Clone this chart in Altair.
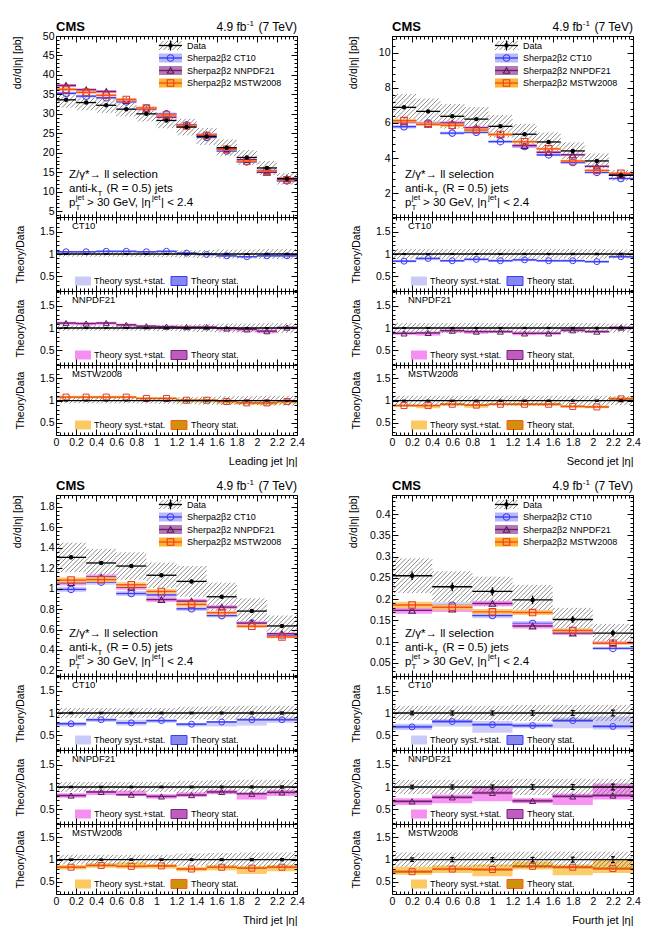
import altair as alt
import numpy as np
import pandas as pd

FONT = "Liberation Sans"

# ---------------- measured values ----------------
# bin edges in |eta|
lead_edges = [0.0, 0.2, 0.4, 0.6, 0.8, 1.0, 1.2, 1.4, 1.6, 1.8, 2.0, 2.2, 2.4]
second_edges = [0.0, 0.24, 0.48, 0.72, 0.96, 1.2, 1.44, 1.68, 1.92, 2.16, 2.4]
third_edges = [0.0, 0.3, 0.6, 0.9, 1.2, 1.5, 1.8, 2.1, 2.4]
fourth_edges = [0.0, 0.4, 0.8, 1.2, 1.6, 2.0, 2.4]

# measured dsigma/d|eta| [pb], relative stat. and syst. uncertainties
lead_xsec = [33.6, 32.9, 32.2, 31.2, 30.0, 28.3, 26.6, 24.2, 21.3, 18.8, 16.1, 13.3]
lead_stat = [0.005, 0.005, 0.005, 0.005, 0.005, 0.006, 0.006, 0.006, 0.007, 0.007, 0.008, 0.009]
lead_syst = [0.06, 0.06, 0.06, 0.06, 0.065, 0.07, 0.08, 0.09, 0.10, 0.10, 0.11, 0.11]

second_xsec = [6.89, 6.66, 6.38, 6.22, 5.81, 5.36, 4.92, 4.41, 3.84, 3.02]
second_stat = [0.01, 0.01, 0.01, 0.01, 0.011, 0.012, 0.012, 0.013, 0.014, 0.016]
second_syst = [0.11, 0.11, 0.11, 0.11, 0.11, 0.11, 0.11, 0.11, 0.11, 0.10]

third_xsec = [1.305, 1.25, 1.22, 1.13, 1.07, 0.92, 0.78, 0.635]
third_stat = [0.015, 0.015, 0.016, 0.017, 0.018, 0.02, 0.022, 0.025]
third_syst = [0.11, 0.11, 0.11, 0.11, 0.14, 0.15, 0.16, 0.16]

fourth_xsec = [0.255, 0.229, 0.218, 0.198, 0.152, 0.120]
fourth_stat = [0.04, 0.045, 0.045, 0.05, 0.055, 0.065]
fourth_syst = [0.16, 0.16, 0.16, 0.18, 0.18, 0.18]

# Sherpa theory / data ratios, with syst.+stat. band limits
lead_ct10 = [1.05, 1.05, 1.06, 1.06, 1.05, 1.06, 1.02, 0.99, 0.96, 0.94, 0.96, 0.96]
lead_ct10_lo = [1.02, 1.02, 1.03, 1.03, 1.02, 1.03, 0.99, 0.96, 0.93, 0.91, 0.93, 0.93]
lead_ct10_hi = [1.07, 1.07, 1.08, 1.08, 1.07, 1.08, 1.04, 1.01, 0.98, 0.96, 0.98, 0.98]
lead_nnpdf = [1.11, 1.10, 1.11, 1.07, 1.04, 1.03, 1.02, 1.02, 0.99, 0.97, 0.93, 1.01]
lead_nnpdf_lo = [1.07, 1.06, 1.07, 1.03, 1.00, 0.99, 0.98, 0.98, 0.94, 0.92, 0.88, 0.97]
lead_nnpdf_hi = [1.14, 1.13, 1.14, 1.10, 1.07, 1.06, 1.05, 1.05, 1.02, 1.00, 0.97, 1.04]
lead_mstw = [1.08, 1.08, 1.08, 1.08, 1.05, 1.05, 1.01, 1.01, 0.98, 0.95, 0.95, 0.98]
lead_mstw_lo = [1.05, 1.05, 1.05, 1.05, 1.02, 1.02, 0.96, 0.96, 0.93, 0.91, 0.90, 0.93]
lead_mstw_hi = [1.11, 1.11, 1.11, 1.11, 1.08, 1.08, 1.04, 1.04, 1.01, 0.98, 0.98, 1.01]

second_ct10 = [0.84, 0.90, 0.85, 0.88, 0.85, 0.87, 0.85, 0.85, 0.83, 0.94]
second_ct10_lo = [0.81, 0.86, 0.82, 0.85, 0.82, 0.84, 0.82, 0.82, 0.80, 0.91]
second_ct10_hi = [0.87, 0.93, 0.88, 0.91, 0.88, 0.90, 0.88, 0.88, 0.86, 0.97]
second_nnpdf = [0.88, 0.89, 0.94, 0.92, 0.92, 0.88, 0.88, 0.95, 0.92, 1.01]
second_nnpdf_lo = [0.85, 0.83, 0.90, 0.87, 0.89, 0.84, 0.85, 0.91, 0.89, 0.97]
second_nnpdf_hi = [0.92, 0.92, 0.97, 0.95, 0.95, 0.92, 0.92, 0.98, 0.95, 1.04]
second_mstw = [0.89, 0.89, 0.92, 0.90, 0.92, 0.92, 0.92, 0.87, 0.86, 1.04]
second_mstw_lo = [0.86, 0.83, 0.88, 0.84, 0.89, 0.88, 0.88, 0.84, 0.83, 1.00]
second_mstw_hi = [0.92, 0.92, 0.95, 0.93, 0.95, 0.95, 0.95, 0.90, 0.89, 1.08]

third_ct10 = [0.76, 0.85, 0.78, 0.83, 0.75, 0.80, 0.85, 0.85]
third_ct10_lo = [0.70, 0.80, 0.72, 0.78, 0.70, 0.70, 0.72, 0.78]
third_ct10_hi = [0.80, 0.88, 0.85, 0.86, 0.78, 0.82, 0.88, 0.90]
third_nnpdf = [0.81, 0.89, 0.83, 0.79, 0.82, 0.89, 0.85, 0.88]
third_nnpdf_lo = [0.76, 0.82, 0.80, 0.74, 0.78, 0.84, 0.72, 0.80]
third_nnpdf_hi = [0.86, 0.92, 0.92, 0.84, 0.88, 0.94, 0.88, 0.94]
third_mstw = [0.83, 0.87, 0.85, 0.86, 0.79, 0.83, 0.81, 0.83]
third_mstw_lo = [0.78, 0.82, 0.80, 0.80, 0.74, 0.76, 0.68, 0.74]
third_mstw_hi = [0.88, 0.92, 0.94, 0.90, 0.84, 0.88, 0.86, 0.88]

fourth_ct10 = [0.69, 0.81, 0.74, 0.72, 0.83, 0.70]
fourth_ct10_lo = [0.62, 0.70, 0.56, 0.66, 0.66, 0.63]
fourth_ct10_hi = [0.76, 0.86, 0.82, 0.78, 0.90, 0.92]
fourth_nnpdf = [0.68, 0.77, 0.87, 0.69, 0.79, 0.81]
fourth_nnpdf_lo = [0.60, 0.64, 0.68, 0.64, 0.60, 0.72]
fourth_nnpdf_hi = [0.75, 0.83, 1.00, 0.75, 0.85, 1.08]
fourth_mstw = [0.73, 0.79, 0.78, 0.85, 0.83, 0.80]
fourth_mstw_lo = [0.66, 0.70, 0.63, 0.78, 0.65, 0.70]
fourth_mstw_hi = [0.84, 0.87, 0.89, 0.96, 0.89, 1.00]

# theory statistical half-width (ratio units)
lead_th_stat = 0.012
second_th_stat = 0.015
third_th_stat = 0.02
fourth_th_stat = 0.03

MODELS = ["CT10", "NNPDF21", "MSTW2008"]
STYLE = {
    "CT10": dict(line="#3c3cff", syst="#cacaf7", stat="#8787f0", edge="#3c3cff",
                 marker="#3c3cff", shape="circle", box="#b9b9f5"),
    "NNPDF21": dict(line="#6e1f6e", syst="#f78ef2", stat="#c05cbf", edge="#7a237a",
                    marker="#5a1a5a", shape="triangle-up", box="#b279b2"),
    "MSTW2008": dict(line="#ff4a1c", syst="#fcc862", stat="#cf900c", edge="#ff5a14",
                     marker="#e83a2a", shape="square", box="#fbb52e"),
}

JETS = [
    dict(title="Leading jet |η|", edges=lead_edges, xsec=lead_xsec, stat=lead_stat, syst=lead_syst,
         ratio={"CT10": (lead_ct10, lead_ct10_lo, lead_ct10_hi),
                "NNPDF21": (lead_nnpdf, lead_nnpdf_lo, lead_nnpdf_hi),
                "MSTW2008": (lead_mstw, lead_mstw_lo, lead_mstw_hi)},
         th_stat=lead_th_stat, ydom=[3.5, 50.0], ymajor=[5, 10, 15, 20, 25, 30, 35, 40, 45, 50], ystep=1.0),
    dict(title="Second jet |η|", edges=second_edges, xsec=second_xsec, stat=second_stat, syst=second_syst,
         ratio={"CT10": (second_ct10, second_ct10_lo, second_ct10_hi),
                "NNPDF21": (second_nnpdf, second_nnpdf_lo, second_nnpdf_hi),
                "MSTW2008": (second_mstw, second_mstw_lo, second_mstw_hi)},
         th_stat=second_th_stat, ydom=[0.65, 10.95], ymajor=[2, 4, 6, 8, 10], ystep=0.4),
    dict(title="Third jet |η|", edges=third_edges, xsec=third_xsec, stat=third_stat, syst=third_syst,
         ratio={"CT10": (third_ct10, third_ct10_lo, third_ct10_hi),
                "NNPDF21": (third_nnpdf, third_nnpdf_lo, third_nnpdf_hi),
                "MSTW2008": (third_mstw, third_mstw_lo, third_mstw_hi)},
         th_stat=third_th_stat, ydom=[0.146, 1.914],
         ymajor=[0.2, 0.4, 0.6, 0.8, 1.0, 1.2, 1.4, 1.6, 1.8], ystep=0.04),
    dict(title="Fourth jet |η|", edges=fourth_edges, xsec=fourth_xsec, stat=fourth_stat, syst=fourth_syst,
         ratio={"CT10": (fourth_ct10, fourth_ct10_lo, fourth_ct10_hi),
                "NNPDF21": (fourth_nnpdf, fourth_nnpdf_lo, fourth_nnpdf_hi),
                "MSTW2008": (fourth_mstw, fourth_mstw_lo, fourth_mstw_hi)},
         th_stat=fourth_th_stat, ydom=[0.019, 0.445],
         ymajor=[0.05, 0.1, 0.15, 0.2, 0.25, 0.3, 0.35, 0.4], ystep=0.01),
]

# ---------------- geometry ----------------
W = 241
COL_GAP = 95
ROW_GAP = 60
H_MAIN = 181
H_RATIO = [74, 74, 70]
RATIO_DOMAINS = [[0.175, 1.825], [0.175, 1.825], [0.23, 1.80]]
RATIO_MAJOR = [0.5, 1.0, 1.5]
X_DOMAIN = [0.0, 2.4]
X_MAJOR = [0, 0.2, 0.4, 0.6, 0.8, 1, 1.2, 1.4, 1.6, 1.8, 2, 2.2, 2.4]
HATCH = "#5a5a5a"
ONE = pd.DataFrame({"k": [0]})
FMT = "format(datum.value, '~g')"


def minor_ticks(lo, hi, step, majors):
    vals = np.round(np.arange(np.ceil(lo / step) * step, hi + 1e-9, step), 6)
    return [float(v) for v in vals
            if lo <= v <= hi and all(abs(v - m) > 1e-6 for m in majors)]


def neg(n):
    return {"expr": str(-n)}


def xs():
    return alt.Scale(domain=X_DOMAIN, nice=False, zero=False)


def ysc(dom):
    return alt.Scale(domain=dom, nice=False, zero=False)


def X(f):
    return alt.X(f, scale=xs(), axis=None)


def Y(f, dom):
    return alt.Y(f, scale=ysc(dom), axis=None)


def hatch_segments(lo, hi, ylo, yhi, ydom, h, step=4.5):
    """Diagonal (///) hatch lines clipped to each bin box, returned in data units."""
    sx = W / (X_DOMAIN[1] - X_DOMAIN[0])
    sy = h / (ydom[1] - ydom[0])
    rows = []
    for a, b, c, d in zip(lo, hi, ylo, yhi):
        px0, px1 = (a - X_DOMAIN[0]) * sx, (b - X_DOMAIN[0]) * sx
        py0 = (max(c, ydom[0]) - ydom[0]) * sy
        py1 = (min(d, ydom[1]) - ydom[0]) * sy
        k = np.floor((py0 - px1) / step) * step
        while k <= py1 - px0:
            xa, xb = max(px0, py0 - k), min(px1, py1 - k)
            if xb - xa > 0.3:
                rows.append(dict(x=X_DOMAIN[0] + xa / sx, y=ydom[0] + (xa + k) / sy,
                                 x2=X_DOMAIN[0] + xb / sx, y2=ydom[0] + (xb + k) / sy))
            k += step
    return pd.DataFrame(rows)


def hatch_box_px(x0, x1, top, bottom, step=4.5):
    rows = []
    k = np.floor((x0 + top) / step) * step
    while k <= x1 + bottom:
        xa, xb = max(x0, k - bottom), min(x1, k - top)
        if xb - xa > 0.3:
            rows.append(dict(x=xa, y=k - xa, x2=xb, y2=k - xb))
        k += step
    return pd.DataFrame(rows)


def text_layer(s, x, y, size, align="left", bold=False):
    props = dict(text=s, align=align, baseline="alphabetic", fontSize=size, font=FONT, color="black")
    if bold:
        props["fontWeight"] = "bold"
    return alt.Chart(ONE).mark_text(**props).encode(x=alt.value(x), y=alt.value(y))


def frame_layers(ydom, ymajor, ystep, h, ytitle, title_main, xlabels, xtitle):
    ymin = minor_ticks(ydom[0], ydom[1], ystep, ymajor)
    xmin = minor_ticks(X_DOMAIN[0], X_DOMAIN[1], 0.04, X_MAJOR)
    pt = pd.DataFrame({"x": [X_DOMAIN[0]], "y": [ydom[0]]})
    common = dict(zindex=1, grid=False, tickColor="black", domainColor="black",
                  tickWidth=1, domainWidth=1)

    bottom = dict(orient="bottom", values=X_MAJOR, tickSize=neg(6), domain=True,
                  labels=xlabels, title=xtitle, **common)
    if xlabels:
        bottom.update(labelExpr=FMT, labelFlush=False, labelOverlap=False, labelPadding=8,
                      labelFontSize=10.5, labelFont=FONT, labelColor="black")
    if xtitle:
        bottom.update(titleX=W, titleY=29, titleAlign="right", titleBaseline="alphabetic",
                      titleFontSize=11, titleFont=FONT, titleFontWeight="normal", titleColor="black")

    left = dict(orient="left", values=ymajor, tickSize=neg(6), domain=True, labels=True,
                labelExpr=FMT, labelFlush=False, labelOverlap=False, labelPadding=8,
                labelFontSize=10.5, labelFont=FONT, labelColor="black",
                title=ytitle, titleFont=FONT, titleFontWeight="normal", titleColor="black",
                titleFontSize=10.5, titleAngle=270, titleBaseline="middle", **common)
    if title_main:
        left.update(titleX=-39, titleY=0, titleAlign="right")
    else:
        left.update(titleX=-36, titleY=h / 2, titleAlign="center")

    top = dict(orient="top", values=X_MAJOR, tickSize=neg(6), domain=True, labels=False,
               title=None, **common)
    right = dict(orient="right", values=ymajor, tickSize=neg(6), domain=True, labels=False,
                 title=None, **common)
    bmin = dict(orient="bottom", values=xmin, tickSize=neg(3), domain=False, labels=False,
                title=None, **common)
    tmin = dict(orient="top", values=xmin, tickSize=neg(3), domain=False, labels=False,
                title=None, **common)
    lmin = dict(orient="left", values=ymin, tickSize=neg(3), domain=False, labels=False,
                title=None, **common)
    rmin = dict(orient="right", values=ymin, tickSize=neg(3), domain=False, labels=False,
                title=None, **common)

    out = []
    for ax, ay in [(bottom, left), (top, right), (bmin, lmin), (tmin, rmin)]:
        out.append(alt.Chart(pt).mark_point(opacity=0).encode(
            x=alt.X("x:Q", scale=xs(), axis=alt.Axis(**ax)),
            y=alt.Y("y:Q", scale=ysc(ydom), axis=alt.Axis(**ay))))
    return out


def bins(edges):
    lo = edges[:-1]
    hi = edges[1:]
    c = [(a + b) / 2 for a, b in zip(lo, hi)]
    return lo, hi, c


def main_panel(jet):
    lo, hi, c = bins(jet["edges"])
    dom = jet["ydom"]
    xsec = np.array(jet["xsec"])
    stat = np.array(jet["stat"])
    syst = np.array(jet["syst"])
    layers = []

    hatch = hatch_segments(lo, hi, xsec * (1 - syst), xsec * (1 + syst), dom, H_MAIN)
    layers.append(alt.Chart(hatch).mark_rule(color=HATCH, strokeWidth=0.7, clip=True).encode(
        x=X("x:Q"), y=Y("y:Q", dom), x2="x2:Q", y2="y2:Q"))

    for m in MODELS:
        st = STYLE[m]
        r, rlo, rhi = jet["ratio"][m]
        r = np.array(r)
        df = pd.DataFrame(dict(lo=lo, hi=hi, c=c, v=xsec * r,
                               blo=xsec * (r - jet["th_stat"]), bhi=xsec * (r + jet["th_stat"])))
        layers.append(alt.Chart(df).mark_rect(color=st["syst"], opacity=0.9).encode(
            x=X("lo:Q"), x2="hi:Q", y=Y("blo:Q", dom), y2="bhi:Q"))
        layers.append(alt.Chart(df).mark_rule(color=st["line"], strokeWidth=1.4).encode(
            x=X("lo:Q"), x2="hi:Q", y=Y("v:Q", dom)))
        layers.append(alt.Chart(df).mark_point(shape=st["shape"], color=st["marker"], filled=False,
                                               size=42, strokeWidth=1.1, opacity=1).encode(
            x=X("c:Q"), y=Y("v:Q", dom)))

    dd = pd.DataFrame(dict(lo=lo, hi=hi, c=c, v=xsec, elo=xsec * (1 - stat), ehi=xsec * (1 + stat)))
    layers.append(alt.Chart(dd).mark_rule(color="black", strokeWidth=1.3).encode(
        x=X("lo:Q"), x2="hi:Q", y=Y("v:Q", dom)))
    layers.append(alt.Chart(dd).mark_rule(color="black", strokeWidth=1.3).encode(
        x=X("c:Q"), y=Y("elo:Q", dom), y2="ehi:Q"))
    layers.append(alt.Chart(dd).mark_point(shape="circle", color="black", filled=True,
                                           size=20, opacity=1).encode(
        x=X("c:Q"), y=Y("v:Q", dom)))

    # legend
    ly = [9.5, 22.0, 34.5, 47.0]
    bx0, bx1, bxc = 103, 126, 114.5
    hb = hatch_box_px(bx0, bx1, ly[0] - 4.5, ly[0] + 4.5)
    layers.append(alt.Chart(hb).mark_rule(color=HATCH, strokeWidth=0.7).encode(
        x=alt.X("x:Q", scale=None, axis=None), y=alt.Y("y:Q", scale=None, axis=None),
        x2="x2:Q", y2="y2:Q"))
    layers.append(alt.Chart(ONE).mark_rule(color="black", strokeWidth=1.3).encode(
        x=alt.value(bx0), x2=alt.value(bx1), y=alt.value(ly[0])))
    layers.append(alt.Chart(ONE).mark_rule(color="black", strokeWidth=1.3).encode(
        x=alt.value(bxc), y=alt.value(ly[0] - 5), y2=alt.value(ly[0] + 5)))
    layers.append(alt.Chart(ONE).mark_point(shape="circle", color="black", filled=True,
                                            size=20, opacity=1).encode(
        x=alt.value(bxc), y=alt.value(ly[0])))
    layers.append(text_layer("Data", 131, ly[0] + 3.3, 9))
    for i, m in enumerate(MODELS):
        st = STYLE[m]
        yc = ly[i + 1]
        layers.append(alt.Chart(ONE).mark_rect(color=st["box"]).encode(
            x=alt.value(bx0), x2=alt.value(bx1), y=alt.value(yc - 4.5), y2=alt.value(yc + 4.5)))
        layers.append(alt.Chart(ONE).mark_rule(color=st["line"], strokeWidth=1.4).encode(
            x=alt.value(bx0), x2=alt.value(bx1), y=alt.value(yc)))
        layers.append(alt.Chart(ONE).mark_point(shape=st["shape"], color=st["marker"], filled=False,
                                                size=42, strokeWidth=1.1, opacity=1).encode(
            x=alt.value(bxc), y=alt.value(yc)))
        layers.append(text_layer("Sherpa2β2 " + m, 131, yc + 3.3, 9))

    # header and selection text
    layers += [
        text_layer("CMS", 0, -5, 13, bold=True),
        text_layer("4.9 fb", 190.5, -5, 12, align="right"),
        text_layer("-1", 190.8, -10, 8),
        text_layer("(7 TeV)", W, -5, 12, align="right"),
        text_layer("Z/γ*→ ll selection", 13, 142, 11.5),
        text_layer("anti-k", 13, 156, 11.5),
        text_layer("T", 41.5, 159.5, 8),
        text_layer("(R = 0.5) jets", 50.5, 156, 11.5),
        text_layer("p", 13, 170, 11.5),
        text_layer("T", 19.5, 173.5, 8),
        text_layer("jet", 19.8, 163.5, 8),
        text_layer("> 30 GeV, |η", 31, 170, 11.5),
        text_layer("jet", 96, 163.5, 8),
        text_layer("| < 2.4", 105, 170, 11.5),
    ]
    layers += frame_layers(dom, jet["ymajor"], jet["ystep"], H_MAIN, "dσ/d|η| [pb]", True, False, None)
    return alt.layer(*layers).resolve_axis(x="independent", y="independent").properties(
        width=W, height=H_MAIN)


def ratio_panel(jet, idx):
    m = MODELS[idx]
    st = STYLE[m]
    h = H_RATIO[idx]
    dom = RATIO_DOMAINS[idx]
    last = idx == len(MODELS) - 1
    lo, hi, c = bins(jet["edges"])
    r, rlo, rhi = jet["ratio"][m]
    r = np.array(r)
    df = pd.DataFrame(dict(lo=lo, hi=hi, c=c, r=r, slo=rlo, shi=rhi,
                           tlo=r - jet["th_stat"], thi=r + jet["th_stat"]))
    stat = np.array(jet["stat"])
    syst = np.array(jet["syst"])
    layers = [
        alt.Chart(df).mark_rect(color=st["syst"], opacity=0.95).encode(
            x=X("lo:Q"), x2="hi:Q", y=Y("slo:Q", dom), y2="shi:Q"),
        alt.Chart(df).mark_rect(color=st["stat"], opacity=0.9).encode(
            x=X("lo:Q"), x2="hi:Q", y=Y("tlo:Q", dom), y2="thi:Q"),
        alt.Chart(df).mark_rule(color=st["line"], strokeWidth=1.3).encode(
            x=X("lo:Q"), x2="hi:Q", y=Y("r:Q", dom)),
        alt.Chart(df).mark_point(shape=st["shape"], color=st["marker"], filled=False,
                                 size=36, strokeWidth=1.0, opacity=1).encode(
            x=X("c:Q"), y=Y("r:Q", dom)),
    ]
    hatch = hatch_segments(lo, hi, 1 - syst, 1 + syst, dom, h)
    layers.append(alt.Chart(hatch).mark_rule(color=HATCH, strokeWidth=0.7, clip=True).encode(
        x=X("x:Q"), y=Y("y:Q", dom), x2="x2:Q", y2="y2:Q"))
    unity = pd.DataFrame({"a": [X_DOMAIN[0]], "b": [X_DOMAIN[1]], "one": [1.0]})
    layers.append(alt.Chart(unity).mark_rule(color="black", strokeWidth=1.3).encode(
        x=X("a:Q"), x2="b:Q", y=Y("one:Q", dom)))
    de = pd.DataFrame(dict(c=c, elo=1 - stat, ehi=1 + stat))
    layers.append(alt.Chart(de).mark_rule(color="black", strokeWidth=1.2).encode(
        x=X("c:Q"), y=Y("elo:Q", dom), y2="ehi:Q"))
    for f in ["elo", "ehi"]:
        layers.append(alt.Chart(de).mark_tick(orient="horizontal", color="black", size=4,
                                              thickness=1.2, opacity=1).encode(
            x=X("c:Q"), y=Y(f + ":Q", dom)))

    # pdf label and band legend
    layers.append(text_layer(m, 16, 12, 9.5))
    yb0, yb1 = h - 14.5, h - 5.5
    layers.append(alt.Chart(ONE).mark_rect(color=st["syst"]).encode(
        x=alt.value(19), x2=alt.value(35), y=alt.value(yb0), y2=alt.value(yb1)))
    layers.append(text_layer("Theory syst.+stat.", 38, h - 6.8, 9))
    layers.append(alt.Chart(ONE).mark_rect(fill=st["stat"], stroke=st["edge"], strokeWidth=1).encode(
        x=alt.value(115), x2=alt.value(131), y=alt.value(yb0), y2=alt.value(yb1)))
    layers.append(text_layer("Theory stat.", 135, h - 6.8, 9))

    layers += frame_layers(dom, RATIO_MAJOR, 0.1, h, "Theory/Data", False, last,
                           jet["title"] if last else None)
    return alt.layer(*layers).resolve_axis(x="independent", y="independent").properties(
        width=W, height=h)


def spacer(w, h):
    return alt.Chart(ONE).mark_point(opacity=0).encode(
        x=alt.value(0), y=alt.value(0)).properties(width=w, height=h)


def jet_column(jet):
    return [main_panel(jet)] + [ratio_panel(jet, i) for i in range(len(MODELS))]


# flat 3-column grid: left panels | gap | right panels, with a spacer row between the two rows
cells = []
for left_jet, right_jet in [(JETS[0], JETS[1]), (JETS[2], JETS[3])]:
    if cells:
        cells += [spacer(W, ROW_GAP), spacer(COL_GAP, ROW_GAP), spacer(W, ROW_GAP)]
    heights = [H_MAIN] + H_RATIO
    for a, b, h in zip(jet_column(left_jet), jet_column(right_jet), heights):
        cells += [a, spacer(COL_GAP, h), b]

chart = alt.concat(*cells, columns=3, spacing=0, bounds="flush", align="each").properties(
    padding={"left": 12, "top": 20, "right": 5, "bottom": 5},
    background="white",
).configure_view(strokeWidth=0).configure_axis(
    labelFont=FONT, titleFont=FONT
)

chart.save("out.html", embed_options={"renderer": "svg", "actions": False})
